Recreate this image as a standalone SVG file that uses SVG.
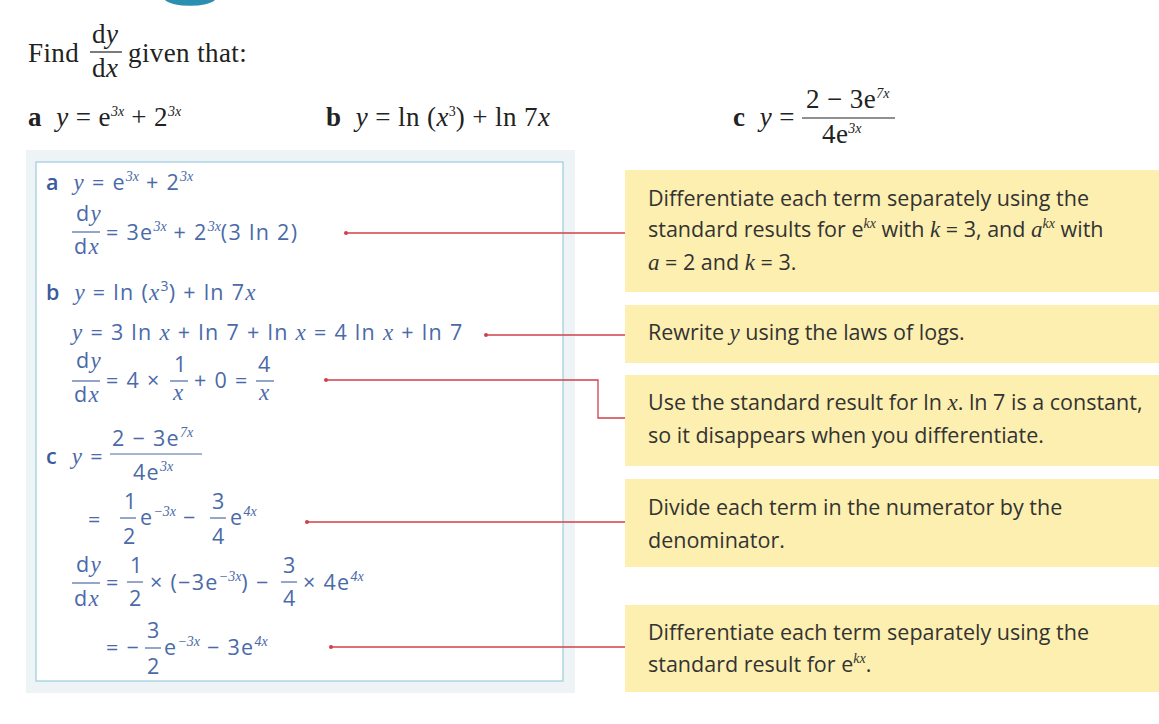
<svg xmlns="http://www.w3.org/2000/svg" width="1159" height="724" viewBox="0 0 1159 724" xml:space="preserve">
<style>
text{white-space:pre}
.h{font-family:"Liberation Serif",serif;font-size:27px;fill:#222;letter-spacing:0.4px}
.hb{font-weight:bold}
.i{font-style:italic}
.m{font-family:"Open Sans","Liberation Sans",sans-serif;font-size:21.5px;fill:#4a6aa8;letter-spacing:1.3px}
.mi{font-family:"Liberation Serif",serif;font-style:italic;font-size:23px}
.sup{font-size:14px;letter-spacing:0}
.lbl{font-weight:600;fill:#3c5a9c}
.n{font-family:"Open Sans","Liberation Sans",sans-serif;font-size:21.5px;fill:#333}
.note{fill:#fdefb0}
.bar{stroke:#4a6aa8;stroke-width:1.2}
.hbar{stroke:#222;stroke-width:1.2}
.con{stroke:#d0404a;stroke-width:1.3;fill:none}
.dot{fill:#d0404a}
</style>
<rect width="1159" height="724" fill="#fff"/>
<path d="M165,0 A26,8 0 0 0 215,0 Z" fill="#2a8fb0"/>
<g id="question">
<text class="h" x="28" y="62">Find</text>
<text class="h" x="92" y="43">d<tspan class="i">y</tspan></text>
<line class="hbar" x1="90" y1="52" x2="122" y2="52"/>
<text class="h" x="92" y="77">d<tspan class="i">x</tspan></text>
<text class="h" x="128" y="62">given that:</text>
<text class="h" x="28" y="126"><tspan class="hb">a</tspan>  <tspan class="i">y</tspan> = e<tspan class="sup i" dy="-10">3x</tspan><tspan dy="10"> + 2</tspan><tspan class="sup i" dy="-10">3x</tspan></text>
<text class="h" x="326" y="126"><tspan class="hb">b</tspan>  <tspan class="i">y</tspan> = ln (<tspan class="i">x</tspan><tspan class="sup" dy="-10">3</tspan><tspan dy="10">) + ln 7</tspan><tspan class="i">x</tspan></text>
<text class="h" x="733" y="126"><tspan class="hb">c</tspan>  <tspan class="i">y</tspan> =</text>
<text class="h" x="806" y="108">2 − 3e<tspan class="sup i" dy="-10">7x</tspan></text>
<line class="hbar" x1="802" y1="118" x2="895" y2="118"/>
<text class="h" x="822" y="143">4e<tspan class="sup i" dy="-10">3x</tspan></text>
</g>
<rect x="26" y="150" width="549" height="543" fill="#eef3f6"/>
<rect x="36" y="162" width="527" height="519" fill="#fff" stroke="#9ccde0" stroke-width="1.2"/>
<g id="solution" class="m">
<text x="46" y="190"><tspan class="lbl">a</tspan>  <tspan class="mi">y</tspan> = e<tspan class="sup mi" dy="-9">3x</tspan><tspan dy="9"> + 2</tspan><tspan class="sup mi" dy="-9">3x</tspan></text>
<text x="76" y="221">d<tspan class="mi">y</tspan></text>
<line class="bar" x1="72" y1="232" x2="100" y2="232"/>
<text x="74" y="254">d<tspan class="mi">x</tspan></text>
<text x="106" y="240">= 3e<tspan class="sup mi" dy="-9">3x</tspan><tspan dy="9"> + 2</tspan><tspan class="sup mi" dy="-9">3x</tspan><tspan dy="9">(3 ln 2)</tspan></text>
<text x="46" y="300"><tspan class="lbl">b</tspan>  <tspan class="mi">y</tspan> = ln (<tspan class="mi">x</tspan><tspan class="sup" dy="-9">3</tspan><tspan dy="9">) + ln 7</tspan><tspan class="mi">x</tspan></text>
<text x="72" y="340"><tspan class="mi">y</tspan> = 3 ln <tspan class="mi">x</tspan> + ln 7 + ln <tspan class="mi">x</tspan> = 4 ln <tspan class="mi">x</tspan> + ln 7</text>
<text x="76" y="368">d<tspan class="mi">y</tspan></text>
<line class="bar" x1="72" y1="381" x2="100" y2="381"/>
<text x="74" y="402">d<tspan class="mi">x</tspan></text>
<text x="106" y="388">= 4 ×</text>
<text x="174" y="372">1</text>
<line class="bar" x1="170" y1="381" x2="188" y2="381"/>
<text x="173" y="400" class="mi">x</text>
<text x="194" y="388">+ 0 =</text>
<text x="258" y="372">4</text>
<line class="bar" x1="256" y1="381" x2="274" y2="381"/>
<text x="259" y="400" class="mi">x</text>
<text x="46" y="464"><tspan class="lbl">c</tspan>  <tspan class="mi">y</tspan> =</text>
<text x="112" y="446">2 − 3e<tspan class="sup mi" dy="-9">7x</tspan></text>
<line class="bar" x1="110" y1="454" x2="202" y2="454"/>
<text x="133" y="480">4e<tspan class="sup mi" dy="-9">3x</tspan></text>
<text x="88" y="527">=</text>
<text x="124" y="509">1</text>
<line class="bar" x1="120" y1="518" x2="136" y2="518"/>
<text x="123" y="544">2</text>
<text x="140" y="525">e<tspan class="sup mi" dy="-9">−3x</tspan><tspan dy="9"> −</tspan></text>
<text x="212" y="509">3</text>
<line class="bar" x1="210" y1="518" x2="226" y2="518"/>
<text x="212" y="544">4</text>
<text x="230" y="525">e<tspan class="sup mi" dy="-9">4x</tspan></text>
<text x="76" y="572">d<tspan class="mi">y</tspan></text>
<line class="bar" x1="72" y1="583" x2="100" y2="583"/>
<text x="74" y="606">d<tspan class="mi">x</tspan></text>
<text x="106" y="590">=</text>
<text x="130" y="573">1</text>
<line class="bar" x1="127" y1="582" x2="143" y2="582"/>
<text x="129" y="606">2</text>
<text x="150" y="590">× (−3e<tspan class="sup mi" dy="-9">−3x</tspan><tspan dy="9">) −</tspan></text>
<text x="283" y="573">3</text>
<line class="bar" x1="281" y1="582" x2="297" y2="582"/>
<text x="283" y="606">4</text>
<text x="303" y="590">× 4e<tspan class="sup mi" dy="-9">4x</tspan></text>
<text x="106" y="655">= −</text>
<text x="147" y="638">3</text>
<line class="bar" x1="145" y1="648" x2="161" y2="648"/>
<text x="147" y="674">2</text>
<text x="164" y="655">e<tspan class="sup mi" dy="-9">−3x</tspan><tspan dy="9"> − 3e</tspan><tspan class="sup mi" dy="-9">4x</tspan></text>
</g>
<g id="connectors">
<circle class="dot" cx="346" cy="233" r="2"/><path class="con" d="M346,233H625"/>
<circle class="dot" cx="486" cy="335" r="2"/><path class="con" d="M486,335H625"/>
<circle class="dot" cx="326" cy="380" r="2"/><path class="con" d="M326,380H598V418H625"/>
<circle class="dot" cx="307" cy="522" r="2"/><path class="con" d="M307,522H625"/>
<circle class="dot" cx="331" cy="647" r="2"/><path class="con" d="M331,647H625"/>
</g>
<g id="note1"><rect class="note" x="625" y="170" width="534" height="122"/>
<text class="n" x="648" y="206">Differentiate each term separately using the</text>
<text class="n" x="648" y="237">standard results for e<tspan class="sup mi" dy="-9">kx</tspan><tspan dy="9"> with </tspan><tspan class="mi">k</tspan> = 3, and <tspan class="mi">a</tspan><tspan class="sup mi" dy="-9">kx</tspan><tspan dy="9"> with</tspan></text>
<text class="n" x="648" y="270"><tspan class="mi">a</tspan> = 2 and <tspan class="mi">k</tspan> = 3.</text></g>
<g id="note2"><rect class="note" x="625" y="305" width="534" height="58"/>
<text class="n" x="648" y="340">Rewrite <tspan class="mi">y</tspan> using the laws of logs.</text></g>
<g id="note3"><rect class="note" x="625" y="375" width="534" height="91"/>
<text class="n" x="648" y="410">Use the standard result for ln <tspan class="mi">x</tspan>. ln 7 is a constant,</text>
<text class="n" x="648" y="443">so it disappears when you differentiate.</text></g>
<g id="note4"><rect class="note" x="625" y="479" width="534" height="88"/>
<text class="n" x="648" y="515">Divide each term in the numerator by the</text>
<text class="n" x="648" y="548">denominator.</text></g>
<g id="note5"><rect class="note" x="625" y="605" width="534" height="87"/>
<text class="n" x="648" y="640">Differentiate each term separately using the</text>
<text class="n" x="648" y="672">standard result for e<tspan class="sup mi" dy="-9">kx</tspan><tspan dy="9">.</tspan></text></g>
</svg>
